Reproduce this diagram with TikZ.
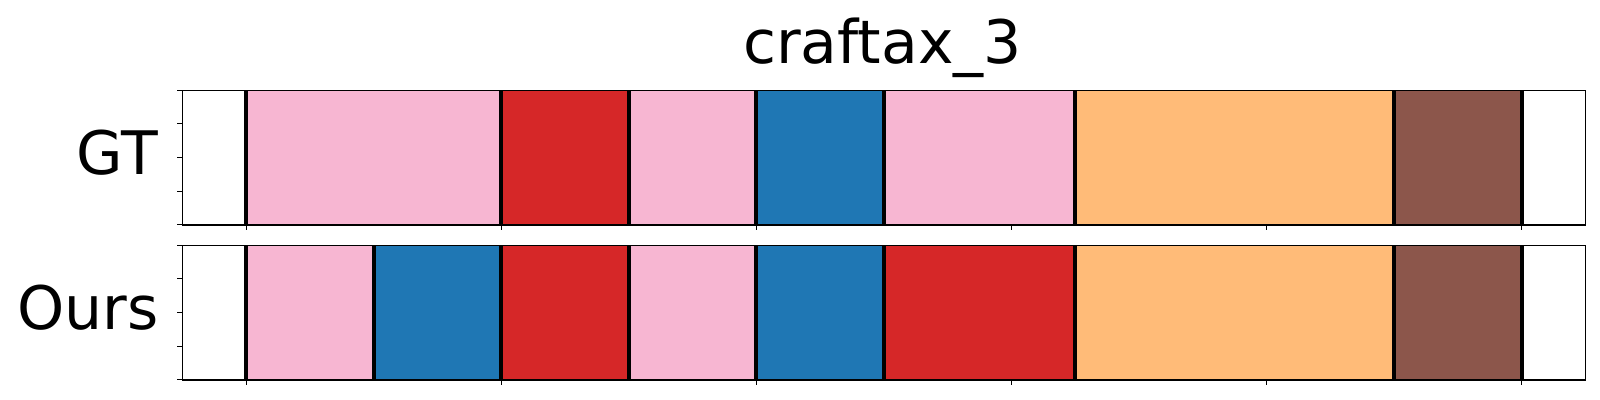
\documentclass[tikz,border=0pt]{standalone}
\usepackage{fontspec}
\setmainfont{DejaVu Sans}
\usetikzlibrary{calc}
\usetikzlibrary{positioning}

\definecolor{segpink}{HTML}{F7B6D2}
\definecolor{segred}{HTML}{D62728}
\definecolor{segblue}{HTML}{1F77B4}
\definecolor{segorange}{HTML}{FFBB78}
\definecolor{segbrown}{HTML}{8C564B}

\tikzset{
  seg/.style={fill=#1, draw=#1!80!black, line width=0.4pt},
  cut/.style={black, line width=2pt},
  frame/.style={black, line width=0.7pt},
  tick/.style={black, line width=0.5pt},
  lbl/.style={font=\fontsize{30}{36}\selectfont, inner sep=0pt}
}

\begin{document}
\begin{tikzpicture}[x=1pt,y=1pt]
  \useasboundingbox (0,0) rectangle (800,200);
  % ground truth row
  \begin{scope}[shift={(123,87.5)}, x=127.55pt, y=67.35pt]
    \foreach \a/\b/\c in {0/1/segpink, 1/1.5/segred, 1.5/2/segpink, 2/2.5/segblue,
                          2.5/3.25/segpink, 3.25/4.5/segorange, 4.5/5/segbrown}{
      \path[seg=\c] (\a,0) rectangle (\b,1);
      \draw[cut] (\a,0) -- (\a,1);
    }
    \draw[cut] (5,0) -- (5,1);
    \draw[frame] (-0.25,0) rectangle (5.25,1);
    \foreach \t in {0,...,5} \draw[tick] (\t,0) -- ++(0pt,-2.4pt);
    \foreach \t in {0,0.25,...,1} \draw[tick] (-0.25,\t) -- ++(-2.4pt,0pt);
  \end{scope}
  % predicted row
  \begin{scope}[shift={(123,10)}, x=127.55pt, y=67.35pt]
    \foreach \a/\b/\c in {0/0.5/segpink, 0.5/1/segblue, 1/1.5/segred, 1.5/2/segpink,
                          2/2.5/segblue, 2.5/3.25/segred, 3.25/4.5/segorange, 4.5/5/segbrown}{
      \path[seg=\c] (\a,0) rectangle (\b,1);
      \draw[cut] (\a,0) -- (\a,1);
    }
    \draw[cut] (5,0) -- (5,1);
    \draw[frame] (-0.25,0) rectangle (5.25,1);
    \foreach \t in {0,...,5} \draw[tick] (\t,0) -- ++(0pt,-2.4pt);
    \foreach \t in {0,0.25,...,1} \draw[tick] (-0.25,\t) -- ++(-2.4pt,0pt);
  \end{scope}
  \node[lbl, anchor=base] (title) at (441.2,168.3) {craftax\_3};
  \node[lbl, anchor=base east] (gtlab) at (79.2,112.5) {GT};
  \node[lbl, anchor=base east] (ourslab) at (79.6,35) {Ours};
\end{tikzpicture}
\end{document}
